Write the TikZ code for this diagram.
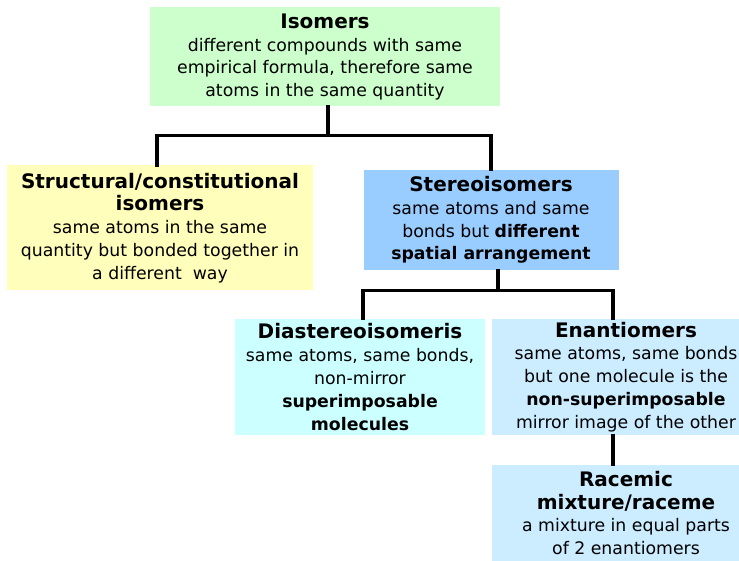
\documentclass[tikz,border=0pt]{standalone}
\usepackage{fontspec}
\setmainfont{DejaVu Sans}
\usetikzlibrary{calc}
\definecolor{isogreen}{HTML}{CCFFCC}
\definecolor{structyellow}{HTML}{FFFFBB}
\definecolor{stereoblue}{HTML}{99CCFF}
\definecolor{diacyan}{HTML}{CCFFFF}
\definecolor{enanblue}{HTML}{CCECFF}
\newcommand{\hd}[1]{{\fontsize{20}{23}\selectfont\bfseries #1}}

\begin{document}
\begin{tikzpicture}[x=1pt,y=-1pt]
	\tikzset{box/.style={rectangle,inner sep=0pt,align=center,font=\fontsize{17.3}{22.8}\selectfont},
		link/.style={line width=3.2pt,line cap=rect}}
	\useasboundingbox (0,0) rectangle (739,561);
	\node[box,fill=isogreen,minimum width=350pt,minimum height=99pt] (iso) at (325,57)
		{\hd{Isomers}\\different compounds with same\\empirical formula, therefore same\\atoms in the same quantity};
	\node[box,fill=structyellow,minimum width=306pt,minimum height=125pt] (struct) at (160,228)
		{\hd{Structural/constitutional}\\\hd{isomers}\\same atoms in the same\\quantity but bonded together in\\a different\ \ way};
	\node[box,fill=stereoblue,minimum width=255pt,minimum height=100pt] (stereo) at (491,220)
		{\hd{Stereoisomers}\\same atoms and same\\bonds but \textbf{different}\\\textbf{spatial arrangement}};
	\node[box,fill=diacyan,minimum width=250pt,minimum height=116pt] (dia) at (360,377)
		{\hd{Diastereoisomeris}\\same atoms, same bonds,\\non-mirror\\\textbf{superimposable}\\\textbf{molecules}};
	\node[box,fill=enanblue,minimum width=268pt,minimum height=116pt] (enan) at (626,377)
		{\hd{Enantiomers}\\same atoms, same bonds\\but one molecule is the\\\textbf{non-superimposable}\\mirror image of the other};
	\node[box,fill=enanblue,minimum width=268pt,minimum height=96pt] (race) at (626,513)
		{\hd{Racemic}\\\hd{mixture/raceme}\\a mixture in equal parts\\of 2 enantiomers};
	\draw[link] ([xshift=3pt]iso.south) -- ++(0,29) coordinate (busA);
	\draw[link] ([xshift=-3pt]struct.north) |- (busA) -| (stereo.north);
	\draw[link] ([xshift=7pt]stereo.south) -- ++(0,20) coordinate (busB);
	\draw[link] ([xshift=3pt]dia.north) |- (busB) -| ([xshift=-13pt]enan.north);
	\draw[link] ([xshift=-13pt]enan.south) -- ([xshift=-13pt]race.north);
\end{tikzpicture}
\end{document}
